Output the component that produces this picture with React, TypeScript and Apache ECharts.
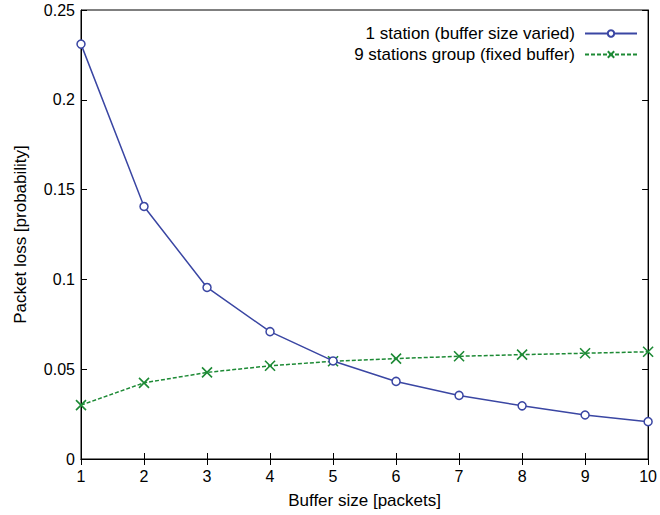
import React, { useEffect, useRef } from "react";
import * as echarts from "echarts";

const bufferSizes = [1, 2, 3, 4, 5, 6, 7, 8, 9, 10];
const oneStation = [0.231, 0.1406, 0.0955, 0.0709, 0.0546, 0.0432, 0.0354, 0.0296, 0.0245, 0.0208];
const nineStations = [0.03, 0.0424, 0.0482, 0.0519, 0.0544, 0.0559, 0.0572, 0.0581, 0.0589, 0.0597];
const seriesNames = ["1 station (buffer size varied)", "9 stations group (fixed buffer)"];

const BLUE = "#3a46a3";
const GREEN = "#1d8a35";
const FONT = "Liberation Sans, Arial, Helvetica, sans-serif";

export default function App() {
  const ref = useRef<HTMLDivElement>(null);
  useEffect(() => {
    if (!ref.current) return;
    const chart = echarts.init(ref.current, undefined, { renderer: "svg" });
    const axisText = { color: "#000", fontSize: 16, fontFamily: FONT };
    const nameText = { color: "#000", fontSize: 17, fontFamily: FONT };
    const tickStyle = { lineStyle: { color: "#000", width: 1 } };
    chart.setOption({
      animation: false,
      textStyle: { fontFamily: FONT },
      grid: { left: 81, right: 8, top: 10, bottom: 56, show: true, borderColor: "#000", borderWidth: 1, backgroundColor: "transparent" },
      legend: {
        orient: "vertical",
        right: 17,
        top: 20,
        align: "right",
        itemWidth: 52,
        itemHeight: 8,
        itemGap: 4,
        textStyle: { color: "#000", fontSize: 17, fontFamily: FONT, padding: [0, 5, 0, 0] },
        data: seriesNames,
      },
      xAxis: [
        {
          type: "value",
          min: 1,
          max: 10,
          interval: 1,
          name: "Buffer size [packets]",
          nameLocation: "middle",
          nameGap: 33,
          nameTextStyle: nameText,
          axisLine: { show: true, lineStyle: { color: "#000" } },
          axisTick: { show: true, inside: true, length: 6, ...tickStyle },
          axisLabel: { ...axisText, margin: 9 },
          splitLine: { show: false },
        },
        {
          type: "value",
          position: "top",
          min: 1,
          max: 10,
          interval: 1,
          axisLine: { show: true, lineStyle: { color: "#000" } },
          axisTick: { show: true, inside: true, length: 6, ...tickStyle },
          axisLabel: { show: false },
          splitLine: { show: false },
        },
      ],
      yAxis: [
        {
          type: "value",
          min: 0,
          max: 0.25,
          interval: 0.05,
          name: "Packet loss [probability]",
          nameLocation: "middle",
          nameGap: 52,
          nameTextStyle: nameText,
          axisLine: { show: true, lineStyle: { color: "#000" } },
          axisTick: { show: true, inside: true, length: 6, ...tickStyle },
          axisLabel: { ...axisText, margin: 6 },
          splitLine: { show: false },
        },
        {
          type: "value",
          position: "right",
          min: 0,
          max: 0.25,
          interval: 0.05,
          axisLine: { show: true, lineStyle: { color: "#000" } },
          axisTick: { show: true, inside: true, length: 6, ...tickStyle },
          axisLabel: { show: false },
          splitLine: { show: false },
        },
      ],
      series: [
        {
          name: seriesNames[0],
          type: "line",
          data: bufferSizes.map((x, i) => [x, oneStation[i]]),
          symbol: "circle",
          symbolSize: 8,
          itemStyle: { color: "#fff", borderColor: BLUE, borderWidth: 1.5 },
          lineStyle: { color: BLUE, width: 1.5 },
          color: BLUE,
          z: 3,
        },
        {
          name: seriesNames[1],
          type: "line",
          data: bufferSizes.map((x, i) => [x, nineStations[i]]),
          symbol: "path://M0,0L10,10M10,0L0,10",
          symbolSize: 10,
          itemStyle: { color: "none", borderColor: GREEN, borderWidth: 1.6 },
          lineStyle: { color: GREEN, width: 1.5, type: [4, 2] },
          color: GREEN,
          z: 2,
        },
      ],
    });
    return () => chart.dispose();
  }, []);
  return <div ref={ref} style={{ width: 660, height: 515, position: "absolute", left: 0, top: 0 }} />;
}
